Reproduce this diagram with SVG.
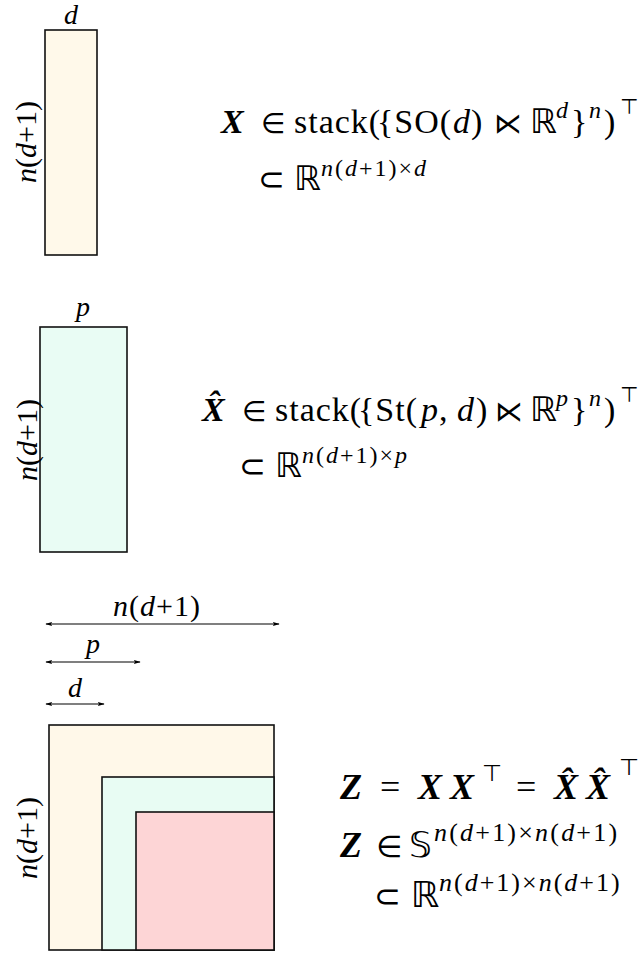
<svg xmlns="http://www.w3.org/2000/svg" width="644" height="955" viewBox="0 0 644 955">
<style>
text{font-family:"Liberation Serif","DejaVu Serif",serif;fill:#000}
.f{font-size:34px}
.fz{font-size:36px}
.lab{font-size:28px;font-style:italic}
.dim{font-size:30px}
.i{font-style:italic}
.b{font-weight:bold;font-style:italic}
.s{font-size:24px;font-style:italic}
.sup{font-size:24px;letter-spacing:2px}
.supz{font-size:26px;letter-spacing:2.2px}
.t{font-size:21px;font-family:"DejaVu Sans",sans-serif}
.m{font-family:"DejaVu Sans",sans-serif}
.r{font-family:"DejaVu Sans",sans-serif;font-size:28px}
.c{font-family:"DejaVu Sans",sans-serif;font-size:32px}
.w{letter-spacing:1px}
.box{stroke:#111;stroke-width:1.6}
.arr{stroke:#000;stroke-width:1.2;fill:none;marker-start:url(#ah);marker-end:url(#ah)}
</style>
<defs>
<marker id="ah" viewBox="0 0 10 10" refX="9" refY="5" markerWidth="7" markerHeight="7" orient="auto-start-reverse" markerUnits="userSpaceOnUse">
<path d="M0,2 L10,5 L0,8 L2,5 Z" fill="#000"/>
</marker>
</defs>

<g id="matrix-X">
<rect class="box" x="45" y="30" width="52" height="225" fill="#FFF9EA"/>
<text class="lab" x="71" y="24" text-anchor="middle">d</text>
<text class="dim" x="0" y="0" transform="translate(36,142) rotate(-90)" text-anchor="middle"><tspan class="i">n</tspan>(<tspan class="i">d</tspan>+1)</text>
</g>

<g id="formula-X">
<text class="f" y="133"><tspan x="221" class="b">X</tspan><tspan x="261" class="r">∈</tspan><tspan x="294" class="w">stack(</tspan><tspan x="377" class="w">{SO(</tspan><tspan x="453" class="i">d</tspan><tspan x="471">)</tspan><tspan x="494" class="r">⋉</tspan><tspan x="530" class="m">ℝ</tspan><tspan x="556" y="118" class="s">d</tspan><tspan x="571" y="133">}</tspan><tspan x="589" y="118" class="s">n</tspan><tspan x="604" y="133">)</tspan><tspan x="620" y="114" class="t">⊤</tspan></text>
<text class="f" y="190"><tspan x="258" class="c">⊂</tspan><tspan x="294" class="m">ℝ</tspan><tspan x="321" y="176" class="sup"><tspan class="i">n</tspan>(<tspan class="i">d</tspan>+1)×<tspan class="i">d</tspan></tspan></text>
</g>

<g id="matrix-Xhat">
<rect class="box" x="40" y="327" width="87" height="225" fill="#E9FCF4"/>
<text class="lab" x="83" y="316" text-anchor="middle">p</text>
<text class="dim" x="0" y="0" transform="translate(37,440) rotate(-90)" text-anchor="middle"><tspan class="i">n</tspan>(<tspan class="i">d</tspan>+1)</text>
</g>

<g id="formula-Xhat">
<text class="f" y="421"><tspan x="202" class="b">X̂</tspan><tspan x="242" class="r">∈</tspan><tspan x="275" class="w">stack(</tspan><tspan x="358" class="w">{St(</tspan><tspan x="421" class="i">p</tspan><tspan x="439">,</tspan><tspan x="457" class="i">d</tspan><tspan x="476">)</tspan><tspan x="495" class="r">⋉</tspan><tspan x="530" class="m">ℝ</tspan><tspan x="556" y="406" class="s">p</tspan><tspan x="571" y="421">}</tspan><tspan x="589" y="406" class="s">n</tspan><tspan x="604" y="421">)</tspan><tspan x="620" y="402" class="t">⊤</tspan></text>
<text class="f" y="477"><tspan x="239" class="c">⊂</tspan><tspan x="275" class="m">ℝ</tspan><tspan x="302" y="463" class="sup"><tspan class="i">n</tspan>(<tspan class="i">d</tspan>+1)×<tspan class="i">p</tspan></tspan></text>
</g>

<g id="dimension-arrows">
<line class="arr" x1="46" y1="624" x2="279" y2="624"/>
<line class="arr" x1="46" y1="662" x2="140" y2="662"/>
<line class="arr" x1="46" y1="704" x2="104" y2="704"/>
<text class="dim" x="157" y="616" text-anchor="middle" style="letter-spacing:1px"><tspan class="i">n</tspan>(<tspan class="i">d</tspan>+1)</text>
<text class="lab" x="93" y="653" text-anchor="middle">p</text>
<text class="lab" x="75" y="697" text-anchor="middle">d</text>
</g>

<g id="matrix-Z">
<rect class="box" x="49" y="725" width="225" height="225" fill="#FFF8E9"/>
<rect class="box" x="102" y="777" width="172" height="173" fill="#E8FCF3"/>
<rect class="box" x="136" y="812" width="138" height="138" fill="#FDD5D6"/>
<text class="dim" x="0" y="0" transform="translate(37,838) rotate(-90)" text-anchor="middle"><tspan class="i">n</tspan>(<tspan class="i">d</tspan>+1)</text>
</g>

<g id="formula-Z">
<text class="fz" y="799"><tspan x="340" class="b">Z</tspan><tspan x="380">=</tspan><tspan x="418" class="b">X</tspan><tspan x="450" class="b">X</tspan><tspan x="482" y="781" class="t" style="font-size:23px">⊤</tspan><tspan x="516" y="799">=</tspan><tspan x="554" class="b">X̂</tspan><tspan x="586" class="b">X̂</tspan><tspan x="619" y="775" class="t" style="font-size:23px">⊤</tspan></text>
<text class="fz" y="857"><tspan x="340" class="b">Z</tspan><tspan x="376" class="r" style="font-size:30px">∈</tspan><tspan x="409" class="m">𝕊</tspan><tspan x="434" y="841" class="supz"><tspan class="i">n</tspan>(<tspan class="i">d</tspan>+1)×<tspan class="i">n</tspan>(<tspan class="i">d</tspan>+1)</tspan></text>
<text class="fz" y="907"><tspan x="374" class="c">⊂</tspan><tspan x="411" class="m">ℝ</tspan><tspan x="439" y="891" class="supz" style="letter-spacing:2px"><tspan class="i">n</tspan>(<tspan class="i">d</tspan>+1)×<tspan class="i">n</tspan>(<tspan class="i">d</tspan>+1)</tspan></text>
</g>
</svg>
